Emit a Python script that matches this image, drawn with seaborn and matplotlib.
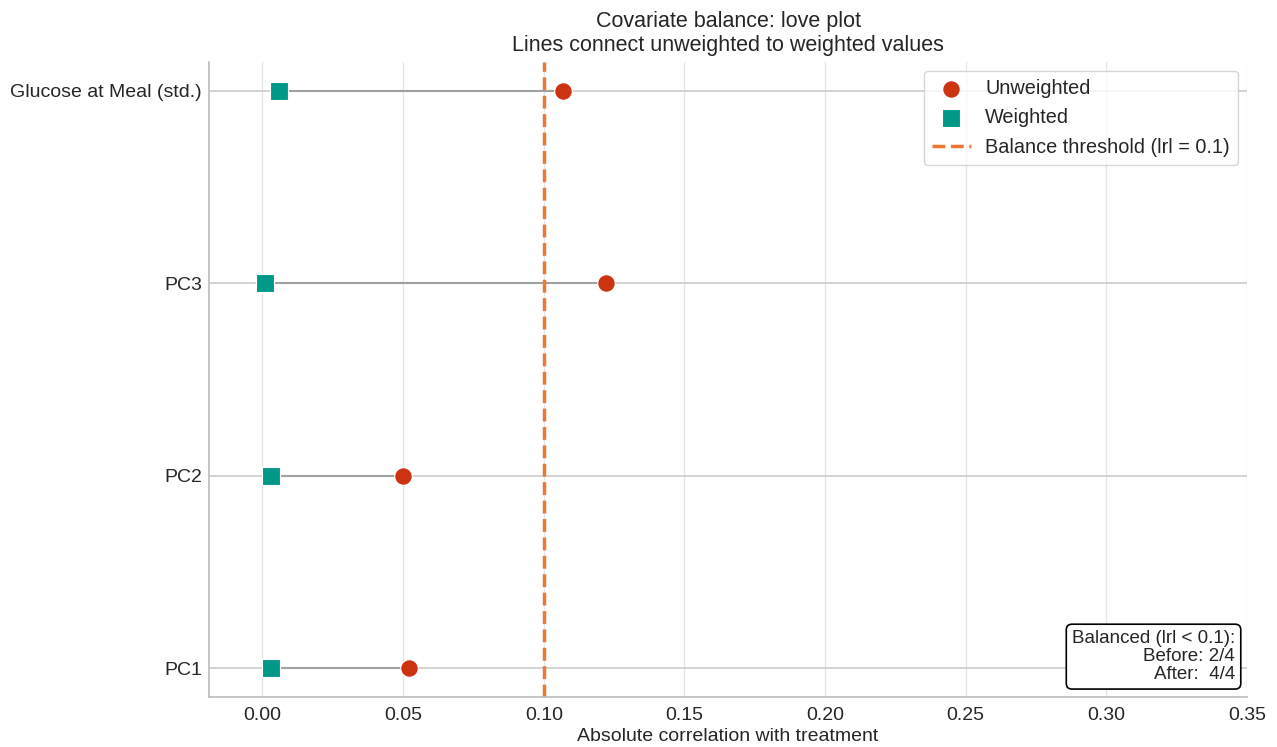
import matplotlib
matplotlib.use("Agg")
import matplotlib.pyplot as plt
import seaborn as sns
import pandas as pd

covariates = ["PC1", "PC2", "PC3", "Glucose at Meal (std.)"]
unweighted = [0.052, 0.050, 0.122, 0.107]
weighted = [0.003, 0.003, 0.001, 0.006]
threshold = 0.1
xticks = [0.00, 0.05, 0.10, 0.15, 0.20, 0.25, 0.30, 0.35]

sns.set_theme(style="whitegrid")
plt.rcParams['font.family'] = ['Liberation Sans', 'DejaVu Sans']

fig = plt.figure(figsize=(12.77, 7.47), dpi=100)
ax = fig.add_axes([0.1637, 0.0669, 0.9765 - 0.1637, 0.917 - 0.0669])

ypos = list(range(len(covariates)))
df = pd.DataFrame({"cov": covariates, "y": ypos, "unw": unweighted, "w": weighted})

for _, r in df.iterrows():
    ax.plot([r["w"], r["unw"]], [r["y"], r["y"]], color="#a0a0a0", lw=1.5, zorder=2)

sns.scatterplot(data=df, x="unw", y="y", ax=ax, color="#cc3311", marker="o", s=160,
                edgecolor="white", linewidth=0.8, zorder=3, label="Unweighted")
sns.scatterplot(data=df, x="w", y="y", ax=ax, color="#009988", marker="s", s=160,
                edgecolor="white", linewidth=0.8, zorder=3, label="Weighted")
ax.axvline(threshold, color="#ee7733", ls="--", lw=2.5,
           label="Balance threshold (lrl = 0.1)", zorder=2)

ax.set_yticks(ypos)
ax.set_yticklabels(covariates, fontsize=14)
ax.set_xticks(xticks)
ax.set_xticklabels([f"{v:.2f}" for v in xticks], fontsize=14)
ax.set_xlim(-0.019, 0.35)
ax.set_ylim(-0.15, 3.15)
ax.set_xlabel("Absolute correlation with treatment", fontsize=14, labelpad=3)
ax.set_ylabel("")
ax.set_title("Covariate balance: love plot\nLines connect unweighted to weighted values",
             fontsize=15.5, pad=8, linespacing=1.15)
ax.grid(True, color="#e6e6e6", lw=1)
ax.yaxis.grid(True, color="#cccccc", lw=1.2)
ax.tick_params(axis="x", length=0, pad=7)
ax.tick_params(axis="y", length=0, pad=5)
for s in ["top", "right"]:
    ax.spines[s].set_visible(False)
for s in ["left", "bottom"]:
    ax.spines[s].set_color("#bbbbbb")
    ax.spines[s].set_linewidth(1.2)

leg = ax.legend(loc="upper right", fontsize=14.3, frameon=True, borderpad=0.4,
                handletextpad=0.7, labelspacing=0.52, markerscale=1.0,
                bbox_to_anchor=(1.0008, 1.0013))
leg.get_frame().set_edgecolor("#cccccc")

n = len(covariates)
before = sum(v < threshold for v in unweighted)
after = sum(v < threshold for v in weighted)
ax.text(0.9886, 0.0214, f"Balanced (lrl < 0.1):\nBefore: {before}/{n}\nAfter:  {after}/{n}",
        transform=ax.transAxes, ha="right", va="bottom", fontsize=13.5, multialignment="right",
        linespacing=1.1,
        bbox=dict(boxstyle="round,pad=0.3", facecolor="white", edgecolor="black", lw=1.2))

fig.savefig("out.png", dpi=100)
